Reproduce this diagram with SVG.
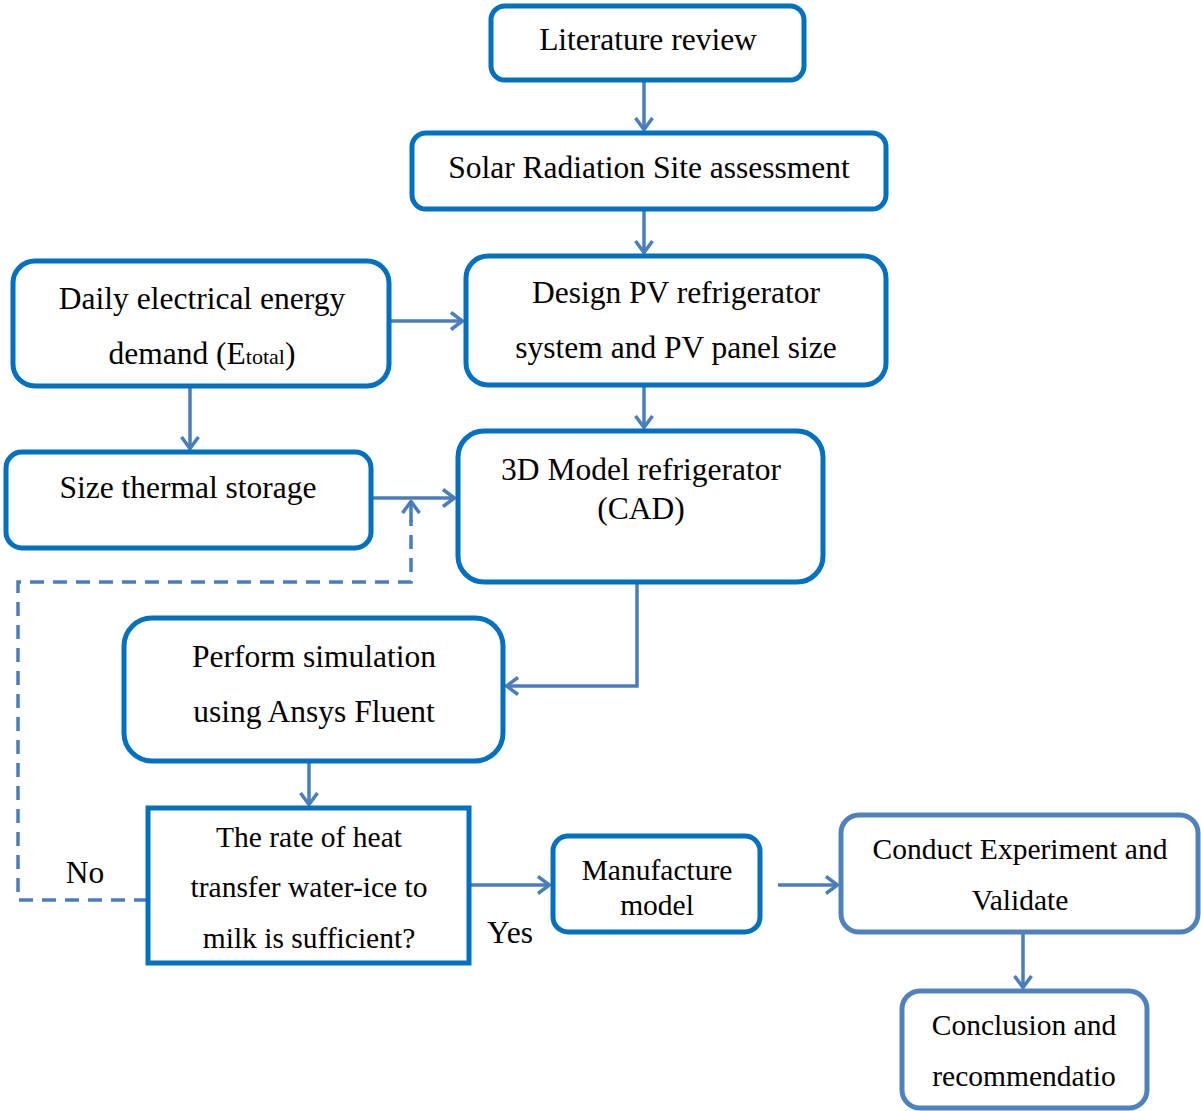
<svg xmlns="http://www.w3.org/2000/svg" width="1201" height="1111" viewBox="0 0 1201 1111">
<defs>
<marker id="ah" viewBox="0 0 14 20" refX="13" refY="10" markerWidth="14" markerHeight="20" markerUnits="userSpaceOnUse" orient="auto">
<path d="M1,1.5 L12.5,10 L1,18.5" fill="none" stroke="#4A7EBB" stroke-width="3.5"/>
</marker>
</defs>
<style>
.b{fill:#fff;stroke:#0070C0;stroke-width:5}
.b2{fill:#fff;stroke:#4F81BD;stroke-width:5}
.c{fill:none;stroke:#4A7EBB;stroke-width:3.5;marker-end:url(#ah)}
.d{fill:none;stroke:#4A7EBB;stroke-width:3.5;stroke-dasharray:14,9}
text{font-family:"Liberation Serif","Times New Roman",serif;font-size:31.5px;fill:#000;text-anchor:middle}
.s{font-size:29.5px}
</style>
<rect width="1201" height="1111" fill="#fff"/>
<g id="connectors">
<line class="c" x1="644" y1="80" x2="644" y2="130"/>
<line class="c" x1="644" y1="209" x2="644" y2="253"/>
<line class="c" x1="389" y1="321" x2="463" y2="321"/>
<line class="c" x1="190" y1="386" x2="190" y2="449"/>
<line class="c" x1="644" y1="385" x2="644" y2="428"/>
<line class="c" x1="366" y1="498" x2="455" y2="498"/>
<path class="d" d="M148,900 H18 V582 H411 V520"/>
<line class="c" x1="411" y1="522" x2="411" y2="501"/>
<path class="c" d="M770,582 H637 V686 H506"/>
<line class="c" x1="309" y1="761" x2="309" y2="805"/>
<line class="c" x1="469" y1="885" x2="550" y2="885"/>
<line class="c" x1="778" y1="885" x2="838" y2="885"/>
<line class="c" x1="1023" y1="932" x2="1023" y2="988"/>
</g>
<g id="n1"><rect class="b" x="491" y="6" width="313" height="74" rx="14"/><text x="648" y="50">Literature review</text></g>
<g id="n2"><rect class="b" x="412" y="133" width="474" height="76" rx="14"/><text x="649" y="178">Solar Radiation Site assessment</text></g>
<g id="n3"><rect class="b" x="13" y="261" width="376" height="125" rx="22"/><text x="202" y="309">Daily electrical energy</text><text x="202" y="364">demand (E<tspan font-size="22">total</tspan>)</text></g>
<g id="n4"><rect class="b" x="466" y="256" width="420" height="129" rx="22"/><text x="676" y="303">Design PV refrigerator</text><text x="676" y="358">system and PV panel size</text></g>
<g id="n5"><rect class="b" x="6" y="452" width="365" height="96" rx="16"/><text x="188" y="498">Size thermal storage</text></g>
<g id="n6"><rect class="b" x="458" y="431" width="365" height="151" rx="26"/><text x="641" y="480">3D Model refrigerator</text><text x="641" y="519">(CAD)</text></g>
<g id="n7"><rect class="b" x="124" y="618" width="379" height="143" rx="28"/><text x="314" y="667">Perform simulation</text><text x="314" y="722">using Ansys Fluent</text></g>
<g id="n8"><rect class="b" x="148" y="808" width="321" height="155"/><text class="s" x="309" y="847">The rate of heat</text><text class="s" x="309" y="897">transfer water-ice to</text><text class="s" x="309" y="948">milk is sufficient?</text></g>
<g id="n9"><rect class="b" x="553" y="836" width="207" height="96" rx="15"/><text class="s" x="657" y="880">Manufacture</text><text class="s" x="657" y="915">model</text></g>
<g id="n10"><rect class="b2" x="841" y="815" width="357" height="117" rx="18"/><text class="s" x="1020" y="859">Conduct Experiment and</text><text class="s" x="1020" y="910">Validate</text></g>
<g id="n11"><rect class="b2" x="902" y="991" width="245" height="117" rx="18"/><text class="s" x="1024" y="1035">Conclusion and</text><text class="s" x="1024" y="1086">recommendatio</text></g>
<g id="labels"><text x="85" y="883">No</text><text x="510" y="943">Yes</text></g>
</svg>
